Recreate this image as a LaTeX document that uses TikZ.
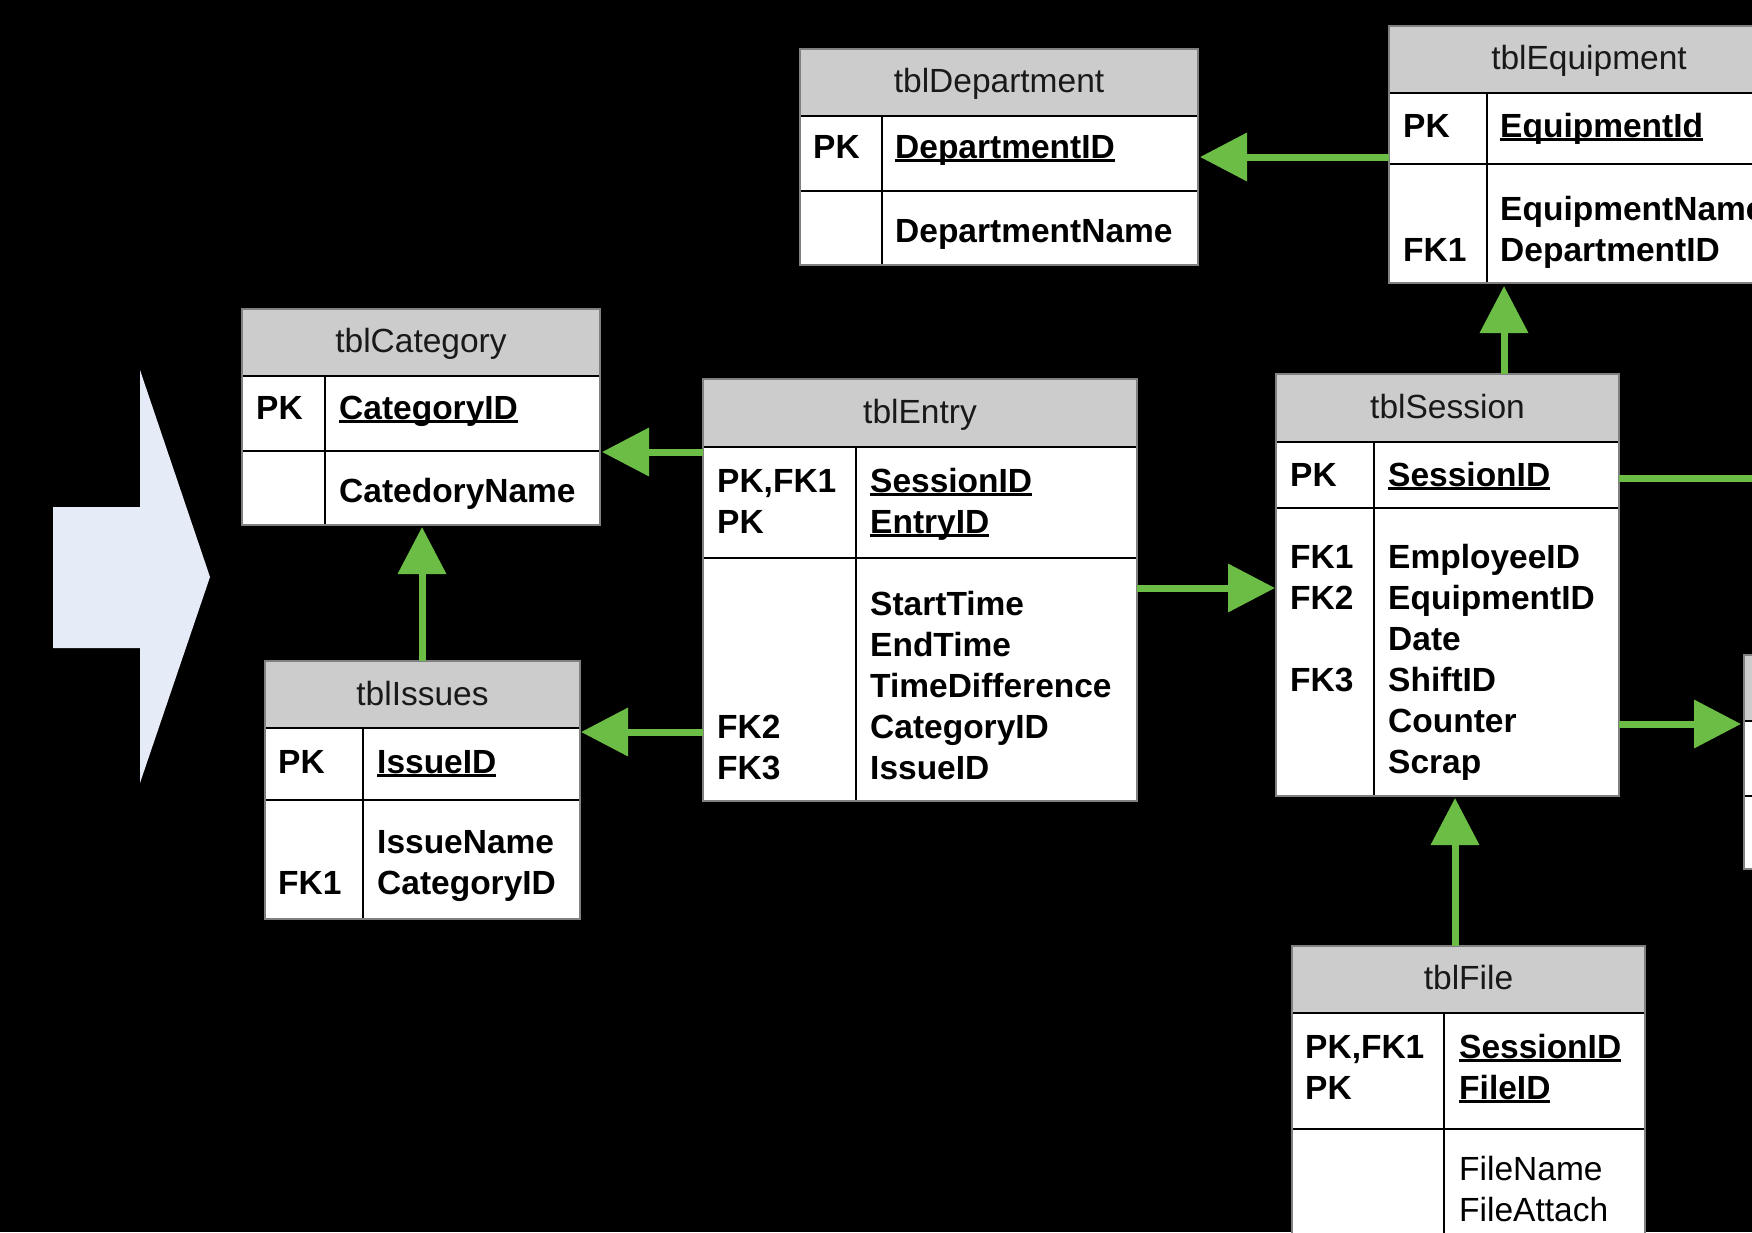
\documentclass[tikz,border=0pt]{standalone}
\usepackage{fontspec}
\setmainfont{Liberation Sans}
\usetikzlibrary{arrows.meta}
\definecolor{hdrgray}{RGB}{204,204,204}
\definecolor{fkgreen}{RGB}{108,189,69}
\definecolor{bigarrow}{RGB}{230,236,247}
\definecolor{edgegray}{RGB}{128,128,128}
\newcommand\ulin[1]{\setbox0\hbox{#1}\rlap{\rule[-4.3pt]{\wd0}{3pt}}\box0}
\newcommand\ertable[7]{%
  \fill[white] (#1,#2) rectangle (#7,#5);
  \fill[hdrgray] (#1,#2) rectangle (#7,#3);
  \draw[tline] (#1,#3) -- (#7,#3) (#1,#4) -- (#7,#4) (#6,#3) -- (#6,#5);
  \draw[tedge] (#1,#2) rectangle (#7,#5);
}
\tikzset{
  tedge/.style={draw=edgegray, line width=1.2pt},
  tline/.style={draw=black, line width=2.2pt},
  lbl/.style={anchor=base west, inner sep=0pt, font=\fontsize{33.5}{41}\selectfont\bfseries},
  lblr/.style={anchor=base west, inner sep=0pt, font=\fontsize{33.5}{41}\selectfont},
  hdr/.style={anchor=base, inner sep=0pt, font=\fontsize{33.5}{41}\selectfont, text=black!90},
  fk/.style={draw=fkgreen, line width=7pt, -{Triangle[length=47pt,width=47pt]}},
  fkline/.style={draw=fkgreen, line width=7pt},
}
\begin{document}
\begin{tikzpicture}[x=1pt,y=-1pt]
\useasboundingbox (0,0) rectangle (1752,1232);
\fill[black] (0,0) rectangle (1752,1232);
\clip (0,0) rectangle (1752,1232);

% big arrow
\fill[bigarrow] (53,507) -- (140,507) -- (140,370) -- (210,577) -- (140,783) -- (140,648) -- (53,648) -- cycle;

% tables
\ertable{800}{49}{116}{191}{265}{882}{1198}
\ertable{1389}{26}{93}{164}{283}{1487}{1795}
\ertable{242}{309}{376}{451}{525}{325}{600}
\ertable{265}{661}{728}{800}{919}{363}{580}
\ertable{703}{379}{447}{558}{801}{856}{1137}
\ertable{1276}{374}{442}{508}{796}{1374}{1619}
\ertable{1292}{946}{1013}{1129}{1270}{1444}{1645}
\ertable{1744}{655}{721}{796}{869}{1900}{2000}

% tblDepartment
\node[hdr] (depH) at (999,92) {tblDepartment};
\node[lbl] (depK1) at (813,158) {PK};
\node[lbl] (depF1) at (895,158) {\ulin{DepartmentID}};
\node[lbl] (depF2) at (895,242) {DepartmentName};

% tblEquipment
\node[hdr] (eqpH) at (1589,69) {tblEquipment};
\node[lbl] (eqpK1) at (1403,137) {PK};
\node[lbl] (eqpF1) at (1500,137) {\ulin{EquipmentId}};
\node[lbl] (eqpF2) at (1500,220) {EquipmentName};
\node[lbl] (eqpF3) at (1500,261) {DepartmentID};
\node[lbl] (eqpK3) at (1403,261) {FK1};

% tblCategory
\node[hdr] (catH) at (421,352) {tblCategory};
\node[lbl] (catK1) at (256,419) {PK};
\node[lbl] (catF1) at (339,419) {\ulin{CategoryID}};
\node[lbl] (catF2) at (339,502) {CatedoryName};

% tblIssues
\node[hdr] (issH) at (422.5,705) {tblIssues};
\node[lbl] (issK1) at (278,773) {PK};
\node[lbl] (issF1) at (377,773) {\ulin{IssueID}};
\node[lbl] (issF2) at (377,853) {IssueName};
\node[lbl] (issF3) at (377,894) {CategoryID};
\node[lbl] (issK3) at (278,894) {FK1};

% tblEntry
\node[hdr] (entH) at (920,423) {tblEntry};
\node[lbl] (entK1) at (717,492) {PK,FK1};
\node[lbl] (entK2) at (717,533) {PK};
\node[lbl] (entF1) at (870,492) {\ulin{SessionID}};
\node[lbl] (entF2) at (870,533) {\ulin{EntryID}};
\node[lbl] (entF3) at (870,615) {StartTime};
\node[lbl] (entF4) at (870,656) {EndTime};
\node[lbl] (entF5) at (870,697) {TimeDifference};
\node[lbl] (entF6) at (870,738) {CategoryID};
\node[lbl] (entF7) at (870,779) {IssueID};
\node[lbl] (entK6) at (717,738) {FK2};
\node[lbl] (entK7) at (717,779) {FK3};

% tblSession
\node[hdr] (sesH) at (1447.5,418) {tblSession};
\node[lbl] (sesK1) at (1290,486) {PK};
\node[lbl] (sesF1) at (1388,486) {\ulin{SessionID}};
\node[lbl] (sesF2) at (1388,568) {EmployeeID};
\node[lbl] (sesF3) at (1388,609) {EquipmentID};
\node[lbl] (sesF4) at (1388,650) {Date};
\node[lbl] (sesF5) at (1388,691) {ShiftID};
\node[lbl] (sesF6) at (1388,732) {Counter};
\node[lbl] (sesF7) at (1388,773) {Scrap};
\node[lbl] (sesK2) at (1290,568) {FK1};
\node[lbl] (sesK3) at (1290,609) {FK2};
\node[lbl] (sesK5) at (1290,691) {FK3};

% tblFile
\node[hdr] (filH) at (1468.5,989) {tblFile};
\node[lbl] (filK1) at (1305,1058) {PK,FK1};
\node[lbl] (filK2) at (1305,1099) {PK};
\node[lbl] (filF1) at (1459,1058) {\ulin{SessionID}};
\node[lbl] (filF2) at (1459,1099) {\ulin{FileID}};
\node[lblr] (filF3) at (1459,1180) {FileName};
\node[lblr] (filF4) at (1459,1221) {FileAttach};

% connector end points
\coordinate (entCatS) at (703,452);  \coordinate (catE) at (602,452);
\coordinate (entIssS) at (703,732);  \coordinate (issE) at (581,732);
\coordinate (entSesS) at (1137,588); \coordinate (sesW) at (1275,588);
\coordinate (eqpDepS) at (1389,157); \coordinate (depE) at (1200,157);
\coordinate (sesEqpS) at (1504,374); \coordinate (eqpS) at (1504,286);
\coordinate (filSesS) at (1455,946); \coordinate (sesS) at (1455,798);
\coordinate (issCatS) at (422,661);  \coordinate (catS) at (422,527);
\coordinate (sesOffS) at (1619,478); \coordinate (offE) at (1760,478);
\coordinate (sesRtS) at (1619,724);  \coordinate (rtW) at (1741,724);

% connectors
\draw[fk] (entCatS) -- (catE);
\draw[fk] (entIssS) -- (issE);
\draw[fk] (entSesS) -- (sesW);
\draw[fk] (eqpDepS) -- (depE);
\draw[fk] (sesEqpS) -- (eqpS);
\draw[fk] (filSesS) -- (sesS);
\draw[fk] (issCatS) -- (catS);
\draw[fkline] (sesOffS) -- (offE);
\draw[fk] (sesRtS) -- (rtW);
\end{tikzpicture}
\end{document}
